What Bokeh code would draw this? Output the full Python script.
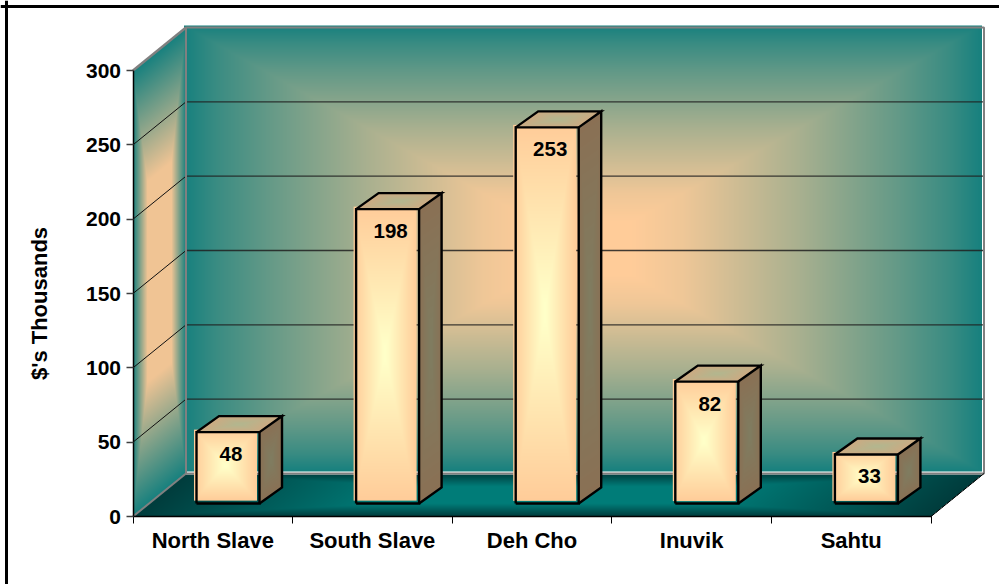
import numpy as np
from bokeh.plotting import figure
from bokeh.models import LinearAxis, FixedTicker, Range1d, Span
from bokeh.core.properties import value
from bokeh.embed import file_html
from bokeh.resources import INLINE

categories = ["North Slave", "South Slave", "Deh Cho", "Inuvik", "Sahtu"]
amounts = [48, 198, 253, 82, 33]
y_ticks = [0, 50, 100, 150, 200, 250, 300]
y_title = "$'s Thousands"

W, H = 999, 584
X0, XU = 132.5, 159.6      # page px of category 0, px per category
Y0, YU = 516.0, 446 / 300  # page px of value 0, px per unit
DX, DY = 53.0, 43.0        # depth of the box in px
BAR_OFF, BAR_W = 63.5, 63.0
BAR_BASE = 13.0
BAR_DX, BAR_DY = 22.5, 16.0
FONT = "Liberation Sans"

def dx(px):
    return (px - X0) / XU
def dy(py):
    return (Y0 - py) / YU
def len_x(px):
    return px / XU
def len_y(py):
    return py / YU

p = figure(width=W, height=H, output_backend="svg", toolbar_location=None,
           x_axis_type=None, y_axis_type=None,
           x_range=Range1d(dx(0), dx(W)), y_range=Range1d(dy(H), dy(0)),
           min_border=0, min_border_left=0, min_border_right=0,
           min_border_top=0, min_border_bottom=0, margin=(0, 0, 0, 0))
p.grid.visible = False
p.outline_line_color = None
p.background_fill_color = "white"
p.border_fill_color = "white"

def mix(t, plateau, edge, centre):
    b = np.clip((1 - t) / plateau, 0, 1)[..., None]
    return np.array(edge, float) * (1 - b) + np.array(centre, float) * b

def mix_curve(t, ts, bs, edge, centre):
    b = np.interp(t, ts, bs)[..., None]
    return np.array(edge, float) * (1 - b) + np.array(centre, float) * b

def add_img(left, top, w, h, colour):
    w, h = int(round(w)), int(round(h))
    xs = left + np.arange(w) + 0.5
    ys = top + h - np.arange(h) - 0.5
    X, Y = np.meshgrid(xs, ys)
    rgb, alpha = colour(X, Y)
    arr = np.dstack([rgb, alpha[..., None] * 255.0]).round().astype(np.uint8)
    img = arr.view(np.uint32).reshape(h, w)
    p.image_rgba(image=[img], x=[dx(left)], y=[dy(top + h)], dw=[len_x(w)], dh=[len_y(h)])

TEAL = (22, 128, 126)
PEACH = (255, 204, 153)

# wall pixel geometry, from the scales
wall_l, wall_r = X0 + DX, X0 + 5 * XU + DX
wall_t, wall_b = Y0 - 300 * YU - DY, Y0 - DY
front_t = Y0 - 300 * YU

def back_wall(X, Y):
    u = np.abs(X - (wall_l + wall_r - 4) / 2) / ((wall_r - wall_l) / 2)
    v = np.abs(Y - (wall_t + wall_b - 4) / 2) / ((wall_b - wall_t) / 2)
    rgb = mix_curve(np.maximum(u, v), [0, .12, .25, .54, .79, .92, 1],
                    [1, 1, .93, .63, .33, .15, 0], TEAL, PEACH)
    return rgb, np.ones_like(X)
add_img(wall_l - 2, wall_t - 2, wall_r - wall_l, wall_b - wall_t, back_wall)

def side_wall(X, Y):
    z = (X - X0) / DX
    yf = Y + z * DY
    u = np.abs(z - 0.5) * 2
    v = np.abs(yf - (Y0 + front_t) / 2) / ((Y0 - front_t) / 2)
    inside = ((z >= 0) & (z <= 1) & (yf >= front_t) & (yf <= Y0)).astype(float)
    return mix(np.maximum(u, v), 0.55, TEAL, (240, 196, 148)), inside
add_img(X0, wall_t, DX + 1, Y0 - wall_t, side_wall)

def floor(X, Y):
    z = (Y0 - Y) / DY
    xf = X - z * DX
    u = np.abs(xf - (X0 + 2.5 * XU)) / (2.5 * XU)
    v = np.abs(z - 0.5) * 2
    inside = ((z >= 0) & (z <= 1) & (xf >= X0) & (xf <= X0 + 5 * XU)).astype(float)
    return mix(np.maximum(u, v), 0.6, (0, 60, 60), (0, 124, 120)), inside
add_img(X0, wall_b + 1, 5 * XU + DX + 1, DY, floor)

ddx, ddy = len_x(DX), len_y(DY)

# gridlines on both walls
for v in y_ticks[1:-1]:
    p.line([0, ddx], [v, v + ddy], line_color="#101010", line_width=1)
    p.line([ddx, 5 + ddx], [v + ddy, v + ddy], line_color="#202020", line_width=1.4, line_alpha=0.85)

# box outline
GRAY = "#808080"
t = y_ticks[-1]
p.line([ddx, 5 + ddx, 5 + ddx, ddx, ddx], [ddy, ddy, t + ddy, t + ddy, ddy], line_color=GRAY, line_width=2)
p.line([0, ddx], [t, t + ddy], line_color=GRAY, line_width=2.5)
p.line([0, ddx], [0, ddy], line_color=GRAY, line_width=2)
p.line([5, 5 + ddx], [0, ddy], line_color="#000000", line_width=1)

# bars
off, bw = len_x(BAR_OFF), len_x(BAR_W)
base = len_y(BAR_BASE)
bdx, bdy = len_x(BAR_DX), len_y(BAR_DY)
for i, a in enumerate(amounts):
    l = i + off
    r = l + bw
    top = base + a
    pl, pt = X0 + l * XU, Y0 - top * YU
    pw, ph = BAR_W, a * YU

    def front(X, Y, pl=pl, pt=pt, pw=pw, ph=ph):
        u = np.abs(X - (pl + pw / 2 - 2.5)) / (pw / 2)
        v = np.abs(Y - (pt + ph / 2 - 2.5)) / (ph / 2)
        return mix(np.maximum(u, v), 0.95, (255, 204, 153), (255, 255, 200)), np.ones_like(X)
    add_img(pl - 2.5, pt - 2.5, pw, ph, front)

    def side(X, Y, pl=pl, pt=pt, pw=pw, ph=ph):
        z = (X - (pl + pw)) / BAR_DX
        yf = Y + z * BAR_DY
        u = np.abs(z - 0.5) * 2
        v = np.abs(yf - (pt + ph / 2)) / (ph / 2)
        return mix(np.maximum(u, v), 0.9, (138, 112, 84), (128, 124, 96)), ((z >= 0) & (z <= 1) & (yf >= pt) & (yf <= pt + ph)).astype(float)
    add_img(pl + pw, pt - BAR_DY, BAR_DX + 1, ph + BAR_DY + 1, side)

    def roof(X, Y, pl=pl, pt=pt, pw=pw):
        z = (pt - Y) / BAR_DY
        xf = X - z * BAR_DX
        u = np.abs(xf - (pl + pw / 2)) / (pw / 2)
        v = np.abs(z - 0.5) * 2
        return mix(np.maximum(u, v), 0.9, (205, 170, 130), (180, 182, 142)), ((z >= 0) & (z <= 1) & (xf >= pl) & (xf <= pl + pw)).astype(float)
    add_img(pl, pt - BAR_DY, pw + BAR_DX + 1, BAR_DY + 1, roof)

    outline = dict(line_color="#000000", line_width=2.4, line_join="miter")
    p.line([l, r, r, l, l], [base, base, top, top, base], **outline)
    p.line([l, l + bdx, r + bdx, r, r + bdx, r + bdx, r],
           [top, top + bdy, top + bdy, top, top + bdy, base + bdy, base], **outline)

labels_x = [i + off + bw / 2 + len_x(3) for i in range(len(amounts))]
labels_y = [base + a for a in amounts]
p.text(labels_x, labels_y, text=[str(a) for a in amounts], y_offset=22,
       text_font=value(FONT), text_font_style="bold", text_font_size="20.5px",
       text_align="center", text_baseline="middle", text_color="black")

# value-axis title
p.text([dx(39)], [dy(303)], text=[y_title], angle=np.pi / 2,
       text_font=value(FONT), text_font_style="bold", text_font_size="22px",
       text_align="center", text_baseline="middle", text_color="black")

# chart frame (only top and left edges fall inside the picture)
p.add_layout(Span(location=dx(6), dimension="height", line_color="black", line_width=3))
p.add_layout(Span(location=dy(6), dimension="width", line_color="black", line_width=3))

# axes
xa = LinearAxis(fixed_location=0, bounds=(0, 5))
xa.ticker = FixedTicker(ticks=[i + 0.5 for i in range(5)], minor_ticks=list(range(6)))
xa.major_label_overrides = {i + 0.5: c for i, c in enumerate(categories)}
xa.major_tick_line_color = None
xa.major_tick_in = 0
xa.major_tick_out = 0
xa.minor_tick_line_color = "black"
xa.minor_tick_in = 0
xa.minor_tick_out = 7
xa.axis_line_color = "black"
xa.axis_line_width = 1.5
xa.major_label_standoff = 4
xa.major_label_text_font = FONT
xa.major_label_text_font_style = "bold"
xa.major_label_text_font_size = "22px"
xa.major_label_text_color = "black"
p.add_layout(xa, "below")

ya = LinearAxis(fixed_location=0, bounds=(0, 300))
ya.ticker = FixedTicker(ticks=y_ticks)
ya.minor_tick_line_color = None
ya.major_tick_in = 0
ya.major_tick_out = 7
ya.major_tick_line_color = "#404040"
ya.major_tick_line_width = 1.5
ya.axis_line_color = "black"
ya.axis_line_width = 1.5
ya.major_label_standoff = 5
ya.major_label_text_font = FONT
ya.major_label_text_font_style = "bold"
ya.major_label_text_font_size = "21px"
ya.major_label_text_color = "black"
p.add_layout(ya, "left")

open("out.html", "w").write(file_html(p, INLINE))
